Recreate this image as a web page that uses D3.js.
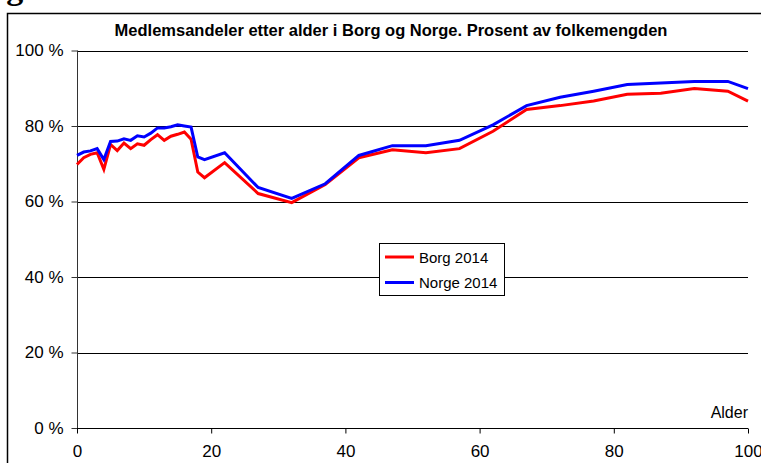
<!DOCTYPE html>
<html><head><meta charset="utf-8">
<script src="https://cdn.jsdelivr.net/npm/d3@7"></script>
<style>body{margin:0;background:#fff}svg{display:block}</style>
</head><body>
<script>
const ages = [0,1,2,3,4,5,6,7,8,9,10,11,12,13,14,15,16,17,18,19,22,27,32,37,42,47,52,57,62,67,72,77,82,87,92,97,100];
const borg = [69.8,71.6,72.5,72.9,68.5,75.1,73.5,75.5,74.0,75.3,74.9,76.4,77.7,76.2,77.3,77.8,78.4,76.5,67.8,66.3,70.3,62.1,59.7,64.5,71.6,73.7,72.9,74.0,78.6,84.4,85.4,86.6,88.4,88.7,89.9,89.2,86.6];
const norge = [72.2,73.1,73.4,74.0,71.1,75.9,76.0,76.6,76.2,77.4,77.1,78.1,79.5,79.5,79.8,80.3,80.0,79.7,71.8,71.1,72.9,63.7,60.8,64.7,72.2,74.8,74.8,76.2,80.3,85.4,87.6,89.2,91.0,91.4,91.8,91.8,89.9];
const seriesNames = ["Borg 2014","Norge 2014"];
const seriesColors = ["#ff0000","#0000ff"];
const yTicks = [0,20,40,60,80,100];
const xTicks = [0,20,40,60,80,100];
const title = "Medlemsandeler etter alder i Borg og Norge. Prosent av folkemengden";

const W=761,H=463;
const svg=d3.select("body").append("svg").attr("width",W).attr("height",H);
const font="'Liberation Sans', Arial, sans-serif";

// cropped heading above the frame
svg.append("text").attr("x",-24).attr("y",-1).attr("font-family","'Liberation Serif', 'Times New Roman', serif")
  .attr("font-weight","bold").attr("font-size",34).text("Figur");

// outer frame
svg.append("rect").attr("x",7.5).attr("y",13.5).attr("width",800).attr("height",500)
  .attr("fill","none").attr("stroke","#000").attr("stroke-width",1.5);

const x=d3.scaleLinear().domain([0,100]).range([77,748]);
const y=d3.scaleLinear().domain([0,100]).range([428,50.5]);

// gridlines
svg.append("g").selectAll("line").data(yTicks.filter(d=>d>0)).join("line")
  .attr("x1",77).attr("x2",748).attr("y1",d=>Math.round(y(d))+0.5).attr("y2",d=>Math.round(y(d))+0.5)
  .attr("stroke","#000").attr("stroke-width",1);

// y axis
const ya=svg.append("g").attr("transform","translate(77.5,0)")
  .call(d3.axisLeft(y).tickValues(yTicks).tickSize(6).tickPadding(8).tickFormat(d=>d+" %"));
ya.select(".domain").attr("stroke","#333").attr("d","M0,"+y(100)+"V"+y(0));
ya.selectAll(".tick line").attr("stroke","#333");
ya.selectAll(".tick text").attr("font-family",font).attr("font-size",17).attr("fill","#000");

// x axis
const xa=svg.append("g").attr("transform","translate(0,428.5)")
  .call(d3.axisBottom(x).tickValues(xTicks).tickSize(5).tickPadding(11));
xa.select(".domain").attr("stroke","#000").attr("d","M77,0H748");
xa.selectAll(".tick line").attr("stroke","#000");
xa.selectAll(".tick text").attr("font-family",font).attr("font-size",17).attr("fill","#000");

svg.append("text").attr("x",748).attr("y",418).attr("text-anchor","end")
  .attr("font-family",font).attr("font-size",16).text("Alder");

// title
svg.append("text").attr("x",391).attr("y",36).attr("text-anchor","middle")
  .attr("font-family",font).attr("font-weight","bold").attr("font-size",16.5).text(title);

// lines
const line=d3.line().x((d,i)=>x(ages[i])).y(d=>y(d));
[borg,norge].forEach((s,k)=>{
  svg.append("path").datum(s).attr("d",line).attr("fill","none")
    .attr("stroke",seriesColors[k]).attr("stroke-width",3).attr("stroke-linejoin","miter");
});

// legend
const lg=svg.append("g");
lg.append("rect").attr("x",379.5).attr("y",243.5).attr("width",125).attr("height",52)
  .attr("fill","#fff").attr("stroke","#000").attr("stroke-width",1);
seriesNames.forEach((n,k)=>{
  const yy=257+k*25.5;
  lg.append("line").attr("x1",385).attr("x2",414).attr("y1",yy).attr("y2",yy)
    .attr("stroke",seriesColors[k]).attr("stroke-width",3);
  lg.append("text").attr("x",419).attr("y",yy+5.5).attr("font-family",font).attr("font-size",15).text(n);
});
</script>
</body></html>
